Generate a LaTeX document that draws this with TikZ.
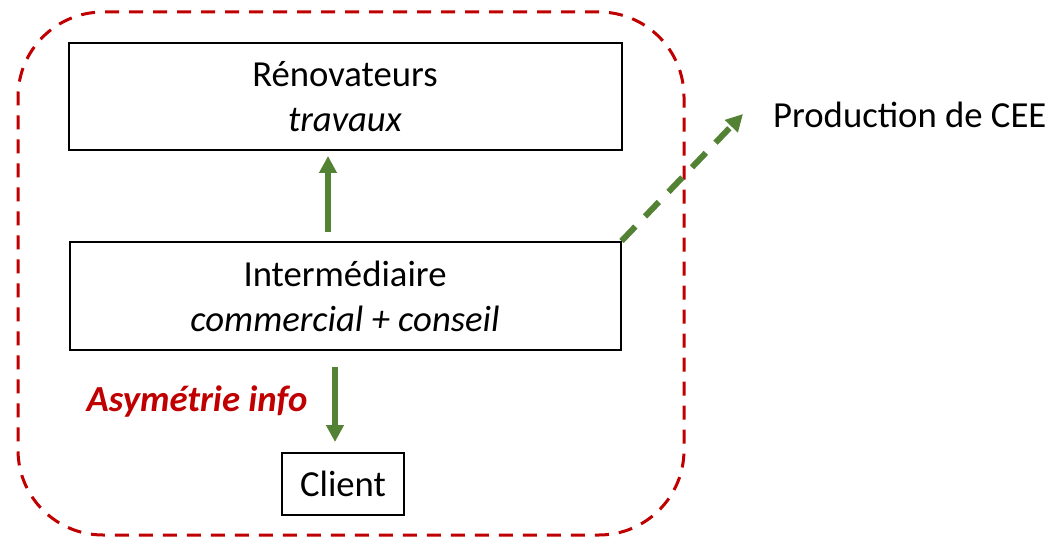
\documentclass[tikz,border=0pt]{standalone}
\usepackage{fontspec}
\setmainfont{Carlito}
\usetikzlibrary{arrows.meta,calc}
\definecolor{cadrered}{HTML}{C00000}
\definecolor{flowgreen}{HTML}{548235}
\begin{document}
\begin{tikzpicture}[x=1pt,y=-1pt,
  txt/.style={font=\fontsize{36.7}{44.8}\selectfont},
  box/.style={draw=black,line width=2pt,txt,align=center,inner sep=0pt},
  frame/.style={draw=cadrered,line width=3pt,dash pattern=on 14pt off 10pt,rounded corners=85pt,inner sep=0pt},
  arr/.style={draw=flowgreen,line width=6pt,-{Triangle[length=17pt,width=17pt]}},
  darr/.style={arr,dash pattern=on 20pt off 14pt}]
  \useasboundingbox (0,0) rectangle (1054,540);
  % outer dashed frame
  \node[frame,minimum width=666pt,minimum height=523pt] (cadre) at (351,273.5) {};
  % boxes
  \node[box,minimum width=553pt,minimum height=107pt] (ren) at (345,96.5) {Rénovateurs\\\textit{travaux}};
  \node[box,minimum width=551pt,minimum height=108pt] (inter) at (345,296) {Intermédiaire\\\textit{commercial + conseil}};
  \node[box,minimum width=122pt,minimum height=62pt] (client) at (343,484) {Client};
  % labels
  \node[txt,text=cadrered,font=\fontsize{36.7}{44.8}\selectfont\bfseries\itshape] (asym) at (197,402) {Asymétrie info};
  \node[txt,anchor=west,inner sep=0pt] (cee) at (773,115) {Production de CEE};
  \coordinate (ceetip) at (743,114);
  % flows
  \draw[arr,shorten <=9pt,shorten >=5pt] ([xshift=-17pt]inter.north) -- ([xshift=-17pt]ren.south);
  \draw[arr,shorten <=16pt,shorten >=10pt] ([xshift=-10pt]inter.south) -- ([xshift=-8pt]client.north);
  \draw[darr] (inter.north east) -- (ceetip);
\end{tikzpicture}
\end{document}
